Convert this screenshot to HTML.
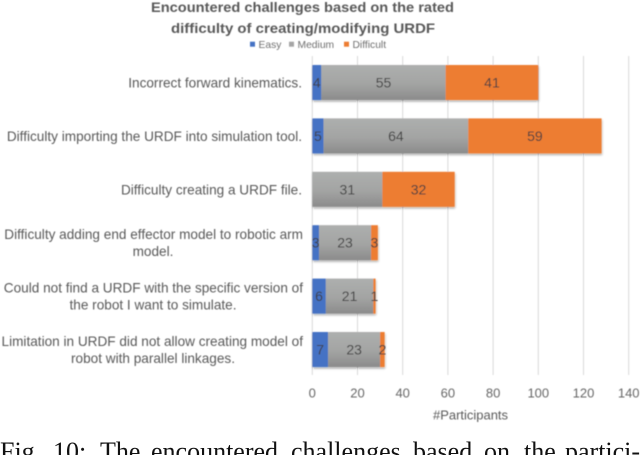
<!DOCTYPE html>
<html>
<head>
<meta charset="utf-8">
<style>
html,body{margin:0;padding:0;background:#fff;width:640px;height:455px;overflow:hidden}
svg{display:block;font-family:"Liberation Sans",sans-serif}
</style>
</head>
<body>
<svg id="chart" width="640" height="455" viewBox="0 0 640 455" xmlns="http://www.w3.org/2000/svg">
<defs>
<linearGradient id="grayFill" x1="0" y1="0" x2="0" y2="1">
<stop offset="0" stop-color="#adafae"/>
<stop offset="0.55" stop-color="#a3a4a3"/>
<stop offset="1" stop-color="#8b8b8b"/>
</linearGradient>
<filter id="soft" x="-5%" y="-5%" width="110%" height="110%"><feGaussianBlur stdDeviation="0.45"/></filter>
<filter id="shadow" x="-5%" y="-10%" width="110%" height="125%"><feDropShadow dx="0.5" dy="1.5" stdDeviation="1" flood-color="#000" flood-opacity="0.35"/></filter>
</defs>
<g id="plot" filter="url(#soft)">
<text x="302.5" y="12" text-anchor="middle" font-size="14" font-weight="bold" fill="#595959" textLength="303" lengthAdjust="spacingAndGlyphs">Encountered challenges based on the rated</text>
<text x="303" y="33" text-anchor="middle" font-size="14" font-weight="bold" fill="#595959" textLength="264" lengthAdjust="spacingAndGlyphs">difficulty of creating/modifying URDF</text>
<g id="legend"></g>
<g id="grid"></g>
<g id="bars"></g>
<g id="cats"></g>
<g id="ticks"></g>
<text x="470.5" y="419.5" text-anchor="middle" font-size="13" fill="#595959" textLength="75" lengthAdjust="spacingAndGlyphs">#Participants</text>
</g>
<text y="460" font-family="'Liberation Serif',serif" font-size="26" fill="#111"><tspan x="0">Fig.</tspan><tspan x="53">10:</tspan><tspan x="100">The</tspan><tspan x="151">encountered</tspan><tspan x="291">challenges</tspan><tspan x="413">based</tspan><tspan x="484">on</tspan><tspan x="524">the</tspan><tspan x="565">partici-</tspan></text>
</svg>
<script>
var categories = [
  ["Incorrect forward kinematics."],
  ["Difficulty importing the URDF into simulation tool."],
  ["Difficulty creating a URDF file."],
  ["Difficulty adding end effector model to robotic arm", "model."],
  ["Could not find a URDF with the specific version of", "the robot I want to simulate."],
  ["Limitation in URDF did not allow creating model of", "robot with parallel linkages."]
];
var easy = [4, 5, 0, 3, 6, 7];
var medium = [55, 64, 31, 23, 21, 23];
var difficult = [41, 59, 32, 3, 1, 2];
var xTicks = [0, 20, 40, 60, 80, 100, 120, 140];
var seriesNames = ["Easy", "Medium", "Difficult"];

var NS = "http://www.w3.org/2000/svg";
function mk(parent, tag, attrs, text) {
  var el = document.createElementNS(NS, tag);
  for (var k in attrs) el.setAttribute(k, attrs[k]);
  if (text !== undefined) el.textContent = text;
  parent.appendChild(el);
  return el;
}
function xScale(v) { return 312.3 + v * 2.26; }
function rowCenter(i) { return 82.5 + i * 53.4; }

var seriesFill = ["#4472c4", "url(#grayFill)", "#ed7d31"];
var seriesData = [easy, medium, difficult];
var catSize = 13.6;

// gridlines and ticks
var gridG = document.getElementById("grid");
var tickG = document.getElementById("ticks");
xTicks.forEach(function (t) {
  var line = mk(gridG, "line", { x1: xScale(t), x2: xScale(t), y1: 56, y2: 375, stroke: "#d9d9d9", "stroke-width": 1 });
  
  
  var label = mk(tickG, "text", { x: xScale(t), y: 397.5, "text-anchor": "middle", "font-size": 13, fill: "#666666" }, String(t));
  
  
});

// bars
var barsG = document.getElementById("bars");
categories.forEach(function (c, i) {
  var cum = 0;
  var group = mk(barsG, "g", { filter: "url(#shadow)" });
  
  
  var y = rowCenter(i) - 17.5;
  seriesData.forEach(function (s, j) {
    var v = s[i];
    if (v > 0) {
      var r = mk(group, "rect", { x: xScale(cum), y: y, width: xScale(cum + v) - xScale(cum), height: 35, fill: seriesFill[j] });
      
      
    }
    cum += v;
  });
  cum = 0;
  seriesData.forEach(function (s, j) {
    var v = s[i];
    if (v > 0) {
      var t = mk(barsG, "text", { x: xScale(cum + v / 2), y: rowCenter(i) + 5, "text-anchor": "middle", "font-size": 14, fill: "#404040" }, String(v));
      
      
    }
    cum += v;
  });
});

// category labels
var catG = document.getElementById("cats");
categories.forEach(function (lines, i) {
  var cy = rowCenter(i);
  if (lines.length === 1) {
    var t = mk(catG, "text", { x: 302, y: cy + 5, "text-anchor": "end", "font-size": catSize, fill: "#595959" }, lines[0]);
    
    
  } else {
    var t1 = mk(catG, "text", { x: 303, y: cy - 3.5, "text-anchor": "end", "font-size": catSize, fill: "#595959" }, lines[0]);
    
    
    var t2 = mk(catG, "text", { x: 153, y: cy + 13.5, "text-anchor": "middle", "font-size": catSize, fill: "#595959" }, lines[1]);
    
    
  }
});

// legend
var legG = document.getElementById("legend");
var legendX = [250, 289, 344];
seriesNames.forEach(function (n, j) {
  var sq = mk(legG, "rect", { x: legendX[j], y: 41.7, width: 5, height: 5, fill: ["#4472c4", "#a5a5a5", "#ed7d31"][j] });
  
  
  var tx = mk(legG, "text", { x: legendX[j] + 8.5, y: 48, "font-size": 10.3, fill: "#707070" }, n);
  
  
});
</script>
</body>
</html>
